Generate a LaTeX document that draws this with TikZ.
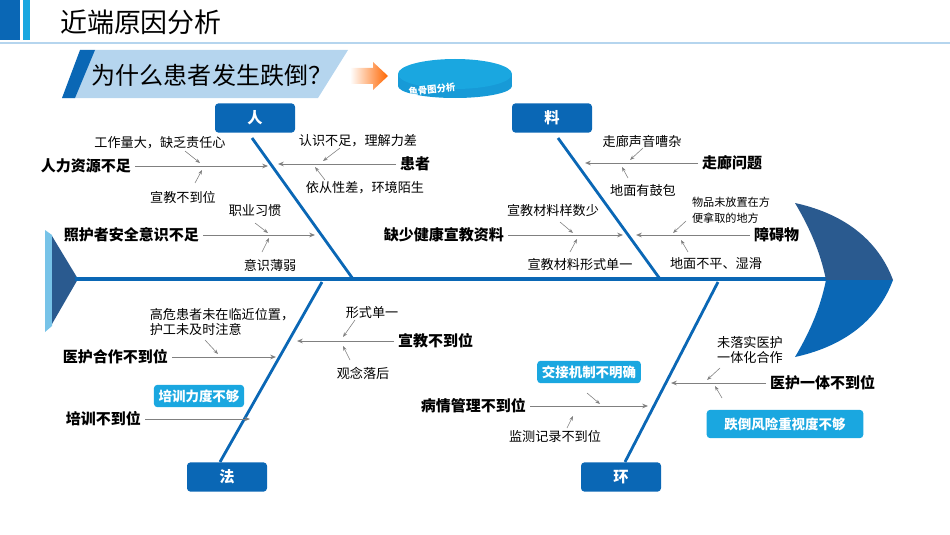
\documentclass[tikz,border=0pt]{standalone}
\usepackage{fontspec}
\setmainfont{Noto Sans CJK SC}
\usetikzlibrary{arrows.meta,shapes.geometric}
\definecolor{deepblue}{HTML}{0A67B5}
\definecolor{headtop}{HTML}{2A5A8F}
\definecolor{skyblue}{HTML}{1AA7E0}
\definecolor{paleblue}{HTML}{B5D5EE}
\definecolor{linegray}{HTML}{808080}
\tikzset{
  cat/.style={fill=deepblue, rounded corners=3pt, minimum width=2.4cm, minimum height=0.88cm, text=white, font=\bfseries\fontsize{13}{13}\selectfont},
  tag/.style={fill=skyblue, rounded corners=3pt, text=white, font=\bfseries\fontsize{11.5}{11.5}\selectfont, inner sep=4pt},
  main/.style={font=\bfseries\fontsize{12.8}{13}\selectfont},
  small/.style={font=\fontsize{11.2}{13.5}\selectfont, align=left},
  bone/.style={deepblue, line width=2.4pt},
  rib/.style={linegray, line width=0.8pt, -{Stealth[length=5pt,width=4pt]}},
  twig/.style={linegray, line width=0.5pt, -{Stealth[length=4pt,width=3pt]}},
}
\begin{document}
\begin{tikzpicture}[x=0.03cm, y=-0.03cm]
  \useasboundingbox (0,0) rectangle (950,535);
  % header
  \fill[deepblue] (0,0) rectangle (20,40);
  \fill[skyblue] (23,0) rectangle (30,40);
  \draw[paleblue, line width=1pt] (0,43) -- (950,43);
  \node[anchor=west, font=\fontsize{23}{23}\selectfont] (title) at (56,22) {近端原因分析};
  % question banner
  \fill[paleblue] (95,50) -- (348,50) -- (318,98) -- (62,98) -- cycle;
  \fill[deepblue] (80,50) -- (95,50) -- (75,98) -- (62,98) -- cycle;
  \node[font=\fontsize{20.5}{20.5}\selectfont] (question) at (212,75) {为什么患者发生跌倒？};
  \shade[left color=white, right color=orange!80!red] (350,68) -- (373,68) -- (373,62) -- (388,76) -- (373,90) -- (373,84) -- (350,84) -- cycle;
  \fill[skyblue!80!deepblue] (398,74) rectangle (512,86);
  \fill[skyblue!80!deepblue] (455,86) ellipse (57 and 12);
  \fill[skyblue] (455,74) ellipse (57 and 15);
  \node[text=white, font=\bfseries\itshape\fontsize{8}{8}\selectfont, rotate=6] (fishtag) at (432,89) {鱼骨图分析};
  % spine, tail and head
  \fill[paleblue!60!skyblue] (45,230) -- (52,235) -- (52,326) -- (45,332) -- cycle;
  \fill[headtop] (52,236) -- (78,279) -- (52,324) -- cycle;
  \draw[deepblue, line width=3.5pt] (75,279) -- (830,279);
  \fill[headtop] (795,203) .. controls (850,215) and (880,245) .. (893,280) -- (826,280) .. controls (820,250) and (808,225) .. (795,203);
  \fill[deepblue] (795,357) .. controls (850,345) and (880,315) .. (893,280) -- (826,280) .. controls (820,310) and (808,335) .. (795,357);
  % categories
  \node[cat] (ren) at (255,118) {人};
  \node[cat] (liao) at (552,118) {料};
  \node[cat] (fa) at (227,477) {法};
  \node[cat] (huan) at (621,477) {环};
  \coordinate (renA) at (252,138); \coordinate (renB) at (353,279);
  \coordinate (liaoA) at (558,138); \coordinate (liaoB) at (660,279);
  \coordinate (faA) at (220,462); \coordinate (faB) at (322,282);
  \coordinate (huanA) at (625,462); \coordinate (huanB) at (718,282);
  \draw[bone] (renA) -- (renB);
  \draw[bone] (liaoA) -- (liaoB);
  \draw[bone] (faA) -- (faB);
  \draw[bone] (huanA) -- (huanB);
  % ren
  \node[main, anchor=east] (staff) at (135,166) {人力资源不足};
  \coordinate (staffE) at (268,166);
  \draw[rib] (staff) -- (staffE);
  \node[small] (workload) at (160,143) {工作量大，缺乏责任心};
  \node[small] (eduA) at (183,197) {宣教不到位};
  \draw[twig] (185,151) -- (200,163);
  \draw[twig] (195,183) -- (202,170);
  \node[main, anchor=west] (patient) at (396,164) {患者};
  \coordinate (patientE) at (278,164);
  \draw[rib] (patient) -- (patientE);
  \node[small] (aware) at (358,141) {认识不足，理解力差};
  \node[small] (comply) at (365,188) {依从性差，环境陌生};
  \draw[twig] (340,148) -- (323,161);
  \draw[twig] (325,180) -- (315,167);
  \node[main, anchor=east] (carer) at (203,235) {照护者安全意识不足};
  \coordinate (carerE) at (315,235);
  \draw[rib] (carer) -- (carerE);
  \node[small] (habit) at (255,211) {职业习惯};
  \node[small] (weak) at (270,265) {意识薄弱};
  \draw[twig] (255,223) -- (268,233);
  \draw[twig] (262,252) -- (269,238);
  % liao
  \node[main, anchor=east] (material) at (508,235) {缺少健康宣教资料};
  \coordinate (materialE) at (623,235);
  \draw[rib] (material) -- (materialE);
  \node[small] (few) at (553,210) {宣教材料样数少};
  \node[small] (single) at (580,265) {宣教材料形式单一};
  \draw[twig] (560,222) -- (573,233);
  \draw[twig] (570,252) -- (577,239);
  \node[main, anchor=west] (obstacle) at (750,235) {障碍物};
  \coordinate (obstacleE) at (636,235);
  \draw[rib] (obstacle) -- (obstacleE);
  \node[small, font=\fontsize{9.5}{14}\selectfont] (items) at (731,210) {物品未放置在方\\便拿取的地方};
  \node[small] (floor) at (716,264) {地面不平、湿滑};
  \draw[twig] (686,221) -- (673,233);
  \draw[twig] (688,252) -- (681,240);
  \node[main, anchor=west] (corridor) at (698,163) {走廊问题};
  \coordinate (corridorE) at (585,163);
  \draw[rib] (corridor) -- (corridorE);
  \node[small] (noise) at (642,141) {走廊声音嘈杂};
  \node[small] (bulge) at (643,190) {地面有鼓包};
  \draw[twig] (643,148) -- (630,160);
  \draw[twig] (628,178) -- (622,167);
  % fa
  \node[small] (farbed) at (222,322) {高危患者未在临近位置，\\护工未及时注意};
  \node[main, anchor=east] (teamwork) at (172,357) {医护合作不到位};
  \coordinate (teamworkE) at (276,357);
  \draw[rib] (teamwork) -- (teamworkE);
  \draw[twig] (205,340) -- (218,354);
  \node[main, anchor=west] (eduB) at (394,341) {宣教不到位};
  \coordinate (eduBE) at (297,341);
  \draw[rib] (eduB) -- (eduBE);
  \node[small] (form) at (372,313) {形式单一};
  \node[small] (outdated) at (363,373) {观念落后};
  \draw[twig] (355,320) -- (343,337);
  \draw[twig] (350,360) -- (343,346);
  \node[tag] (drill) at (199,396) {培训力度不够};
  \node[main, anchor=east] (training) at (145,419) {培训不到位};
  \coordinate (trainingE) at (250,419);
  \draw[rib] (training) -- (trainingE);
  % huan
  \node[tag] (handover) at (589,372) {交接机制不明确};
  \node[main, anchor=east] (manage) at (530,406) {病情管理不到位};
  \coordinate (manageE) at (648,406);
  \draw[rib] (manage) -- (manageE);
  \node[small] (monitor) at (555,436) {监测记录不到位};
  \draw[twig] (587,393) -- (600,404);
  \draw[twig] (567,428) -- (573,416);
  \node[small] (integ) at (750,350) {未落实医护\\一体化合作};
  \node[main, anchor=west] (unity) at (766,383) {医护一体不到位};
  \coordinate (unityE) at (671,383);
  \draw[rib] (unity) -- (unityE);
  \node[tag, minimum width=4.7cm, minimum height=0.85cm] (risk) at (785,424) {跌倒风险重视度不够};
  \draw[twig] (720,368) -- (707,380);
  \draw[twig] (722,398) -- (715,386);
\end{tikzpicture}
\end{document}
